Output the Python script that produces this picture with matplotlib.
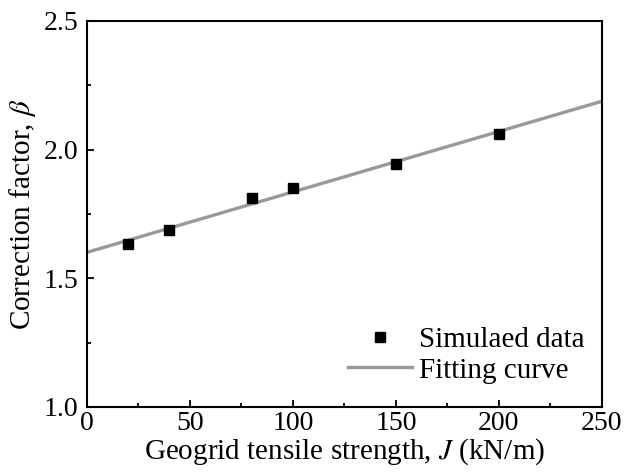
import numpy as np
import matplotlib
matplotlib.use("Agg")
import matplotlib.pyplot as plt
from matplotlib.ticker import MultipleLocator, FormatStrFormatter

# geogrid tensile strength J (kN/m) and simulated correction factor beta
strength = [20, 40, 80, 100, 150, 200]
beta = [1.632, 1.687, 1.812, 1.852, 1.945, 2.062]

plt.rcParams["font.family"] = ["Liberation Serif", "DejaVu Serif"]
plt.rcParams["mathtext.fontset"] = "stix"

fig = plt.figure(figsize=(6.25, 4.76), dpi=100)
ax = fig.add_axes([0.139, 0.145, 0.824, 0.811])

# linear fit through the simulated points
slope, intercept = np.polyfit(strength, beta, 1)
x_fit = np.array([0, 250])
ax.plot(x_fit, intercept + slope * x_fit, color="#999999", lw=2.4,
        label="Fitting curve", zorder=2)
ax.plot(strength, beta, "s", color="black", ms=7.3, ls="none",
        label="Simulaed data", zorder=3)

ax.set_xlim(0, 250)
ax.set_ylim(1.0, 2.5)
ax.xaxis.set_major_locator(MultipleLocator(50))
ax.xaxis.set_minor_locator(MultipleLocator(25))
ax.yaxis.set_major_locator(MultipleLocator(0.5))
ax.yaxis.set_minor_locator(MultipleLocator(0.25))
ax.yaxis.set_major_formatter(FormatStrFormatter("%.1f"))

ax.tick_params(which="both", direction="in", width=1.3, labelsize=20)
ax.tick_params(which="major", length=5)
ax.tick_params(which="minor", length=3)
ax.tick_params(axis="y", pad=6)
ax.tick_params(axis="x", pad=3)
for sp in ax.spines.values():
    sp.set_linewidth(1.5)

ax.set_xlabel("Geogrid tensile strength, $J$ (kN/m)", fontsize=21, labelpad=0)
ax.set_ylabel(r"Correction factor, $\beta$", fontsize=21, labelpad=4)

handles, labels = ax.get_legend_handles_labels()
ax.legend(handles[::-1], labels[::-1], loc="lower right", frameon=False,
          fontsize=21, handlelength=2.2, handletextpad=0.25,
          labelspacing=0.15, borderaxespad=0.4,
          bbox_to_anchor=(1.012, 0.0))

fig.savefig("out.png", dpi=100)
